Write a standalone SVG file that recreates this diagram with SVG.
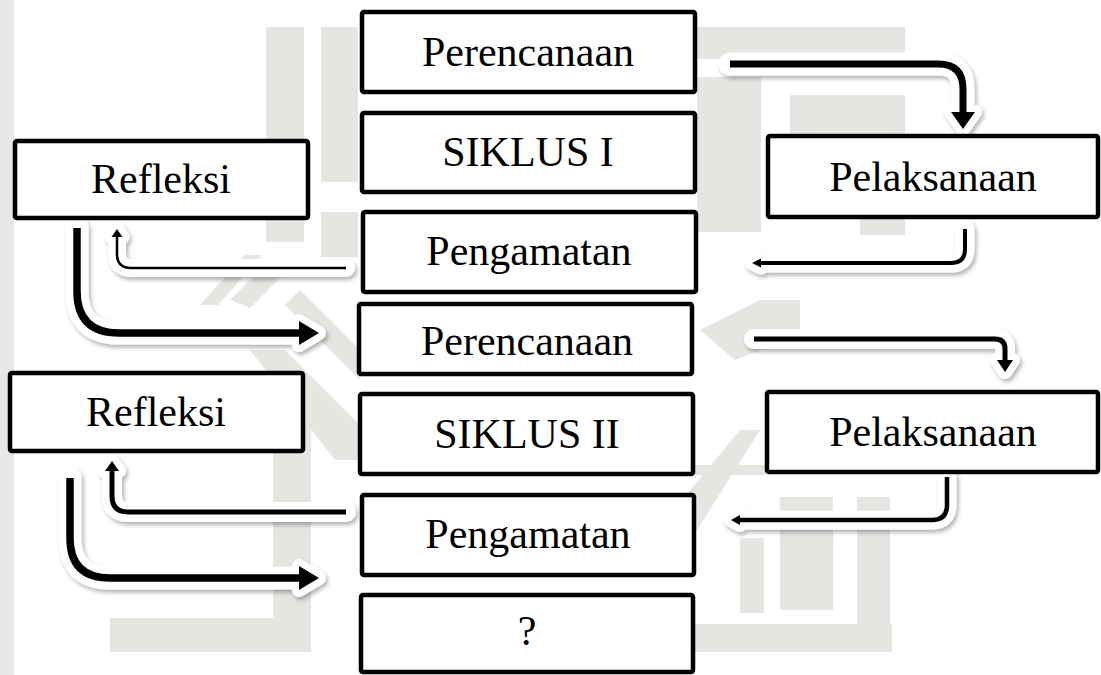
<svg xmlns="http://www.w3.org/2000/svg" width="1101" height="675" viewBox="0 0 1101 675">
<defs>
<style>
.box{fill:#fff;stroke:#000;stroke-width:4.5}
.lbl{font-family:"Liberation Serif","Times New Roman",serif;font-size:42px;fill:#000;text-anchor:middle}
.halo{fill:none;stroke:#fff;stroke-linecap:round;stroke-linejoin:round}
.hhead{fill:#fff;stroke:#fff;stroke-width:14;stroke-linejoin:round}
.ln{fill:none;stroke:#000;stroke-linejoin:round}
.wm{fill:#e4e6e2}
</style>
<filter id="sh" x="-10%" y="-10%" width="130%" height="140%">
<feDropShadow dx="2" dy="3" stdDeviation="2" flood-color="#000" flood-opacity="0.3"/>
</filter>
</defs>
<rect width="1101" height="675" fill="#fff"/>
<rect x="0" y="0" width="14" height="675" fill="#e6e7e7"/>
<g id="watermark">
<rect class="wm" x="266" y="27" width="38" height="215"/>
<rect class="wm" x="321" y="27" width="37" height="155"/>
<rect class="wm" x="321" y="212" width="37" height="45"/>
<rect class="wm" x="695" y="27" width="210" height="32"/>
<rect class="wm" x="697" y="77" width="64" height="155"/>
<polygon class="wm" points="790,95 905,95 905,235 860,235 860,150 790,150"/>
<polygon class="wm" points="230,300 262,268 290,268 250,308"/>
<polygon class="wm" points="200,305 245,255 262,255 218,305"/>
<polygon class="wm" points="300,290 360,350 360,380 285,305"/>
<rect class="wm" x="273" y="380" width="38" height="272"/>
<rect class="wm" x="110" y="618" width="200" height="34"/>
<polygon class="wm" points="250,350 285,350 360,425 360,460 335,460"/>
<polygon class="wm" points="700,330 760,300 800,300 800,335 735,360"/>
<polygon class="wm" points="740,430 760,430 697,530 657,530"/>
<rect class="wm" x="695" y="465" width="70" height="10"/>
<rect class="wm" x="740" y="538" width="24" height="75"/>
<rect class="wm" x="780" y="497" width="53" height="113"/>
<rect class="wm" x="857" y="497" width="33" height="155"/>
<rect class="wm" x="657" y="624" width="235" height="28"/>
</g>
<g id="connectors">
<g filter="url(#sh)">
<path class="halo" stroke-width="23" d="M730 64H938Q963 64 963 89V113"/>
<polygon class="hhead" points="951,112 975,112 963,129"/>
<path class="halo" stroke-width="19" d="M965 229V249Q965 263 951 263H759"/>
<polygon class="hhead" points="752,263 761,258.5 761,267.5"/>
<path class="halo" stroke-width="18" d="M346 268H131Q117 268 117 254V236"/>
<polygon class="hhead" points="117,229 111.5,237 122.5,237"/>
<path class="halo" stroke-width="23" d="M77 228V291Q77 333 119 333H300"/>
<polygon class="hhead" points="299,321 299,345 319,333"/>
<path class="halo" stroke-width="20" d="M754 339H995Q1005 339 1005 349V361"/>
<polygon class="hhead" points="997,360 1013,360 1005,372"/>
<path class="halo" stroke-width="19" d="M947 477V505Q947 520 932 520H738"/>
<polygon class="hhead" points="731,520 740,515 740,525"/>
<path class="halo" stroke-width="20" d="M346 512H128Q112 512 112 496V470"/>
<polygon class="hhead" points="112,461 105,471 119,471"/>
<path class="halo" stroke-width="23" d="M70 478V538Q70 578 110 578H300"/>
<polygon class="hhead" points="299,566 299,590 319,578"/>
</g>
<path class="ln" stroke-width="7" d="M730 64H938Q963 64 963 89V113"/>
<polygon points="951,112 975,112 963,129"/>
<path class="ln" stroke-width="4" d="M965 229V249Q965 263 951 263H759"/>
<polygon points="752,263 761,258.5 761,267.5"/>
<path class="ln" stroke-width="2.5" d="M346 268H131Q117 268 117 254V236"/>
<polygon points="117,229 111.5,237 122.5,237"/>
<path class="ln" stroke-width="7.5" d="M77 228V291Q77 333 119 333H300"/>
<polygon points="299,321 299,345 319,333"/>
<path class="ln" stroke-width="5" d="M754 339H995Q1005 339 1005 349V361"/>
<polygon points="997,360 1013,360 1005,372"/>
<path class="ln" stroke-width="4.5" d="M947 477V505Q947 520 932 520H738"/>
<polygon points="731,520 740,515 740,525"/>
<path class="ln" stroke-width="5" d="M346 512H128Q112 512 112 496V470"/>
<polygon points="112,461 105,471 119,471"/>
<path class="ln" stroke-width="7.5" d="M70 478V538Q70 578 110 578H300"/>
<polygon points="299,566 299,590 319,578"/>
</g>
<g id="perencanaan1"><rect class="box" x="362" y="12" width="333" height="80" rx="2"/><text class="lbl" x="528" y="66">Perencanaan</text></g>
<g id="siklus1"><rect class="box" x="362" y="113" width="333" height="79" rx="2"/><text class="lbl" x="528" y="166">SIKLUS I</text></g>
<g id="pengamatan1"><rect class="box" x="363" y="212" width="333" height="80" rx="2"/><text class="lbl" x="529" y="265">Pengamatan</text></g>
<g id="perencanaan2"><rect class="box" x="359" y="304" width="333" height="70" rx="2"/><text class="lbl" x="527" y="355">Perencanaan</text></g>
<g id="siklus2"><rect class="box" x="360" y="394" width="333" height="80" rx="2"/><text class="lbl" x="527" y="448">SIKLUS II</text></g>
<g id="pengamatan2"><rect class="box" x="362" y="495" width="332" height="80" rx="2"/><text class="lbl" x="528" y="548">Pengamatan</text></g>
<g id="tanya"><rect class="box" x="361" y="595" width="332" height="77" rx="2"/><text class="lbl" x="527" y="645">?</text></g>
<g id="refleksi1"><rect class="box" x="15" y="141" width="293" height="77" rx="2"/><text class="lbl" x="161" y="193">Refleksi</text></g>
<g id="refleksi2"><rect class="box" x="10" y="373" width="293" height="78" rx="2"/><text class="lbl" x="156" y="426">Refleksi</text></g>
<g id="pelaksanaan1"><rect class="box" x="768" y="136" width="330" height="81" rx="2"/><text class="lbl" x="933" y="191">Pelaksanaan</text></g>
<g id="pelaksanaan2"><rect class="box" x="767" y="392" width="331" height="80" rx="2"/><text class="lbl" x="933" y="446">Pelaksanaan</text></g>
</svg>
